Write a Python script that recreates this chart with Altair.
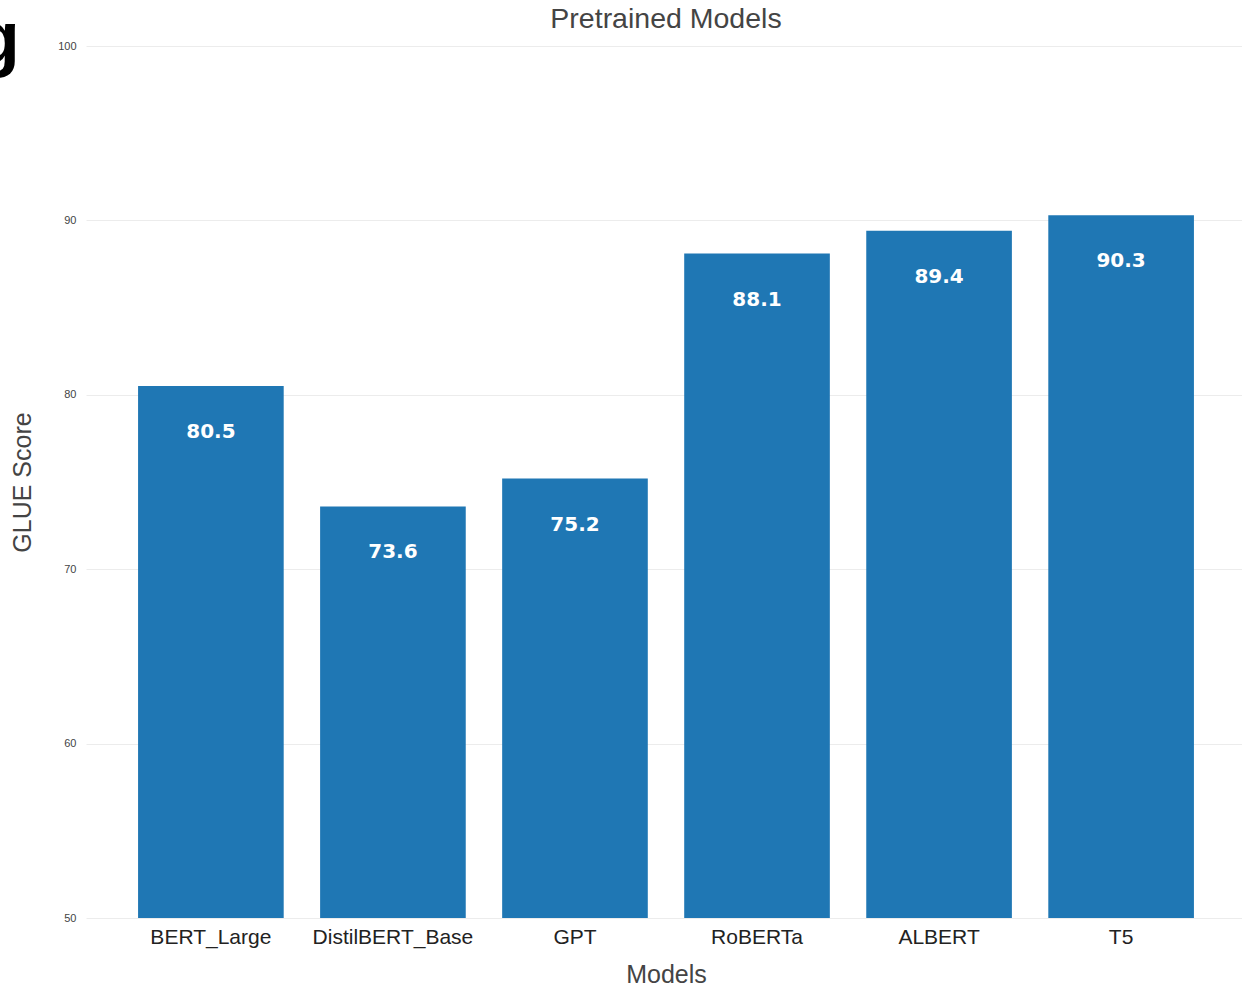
import altair as alt
import pandas as pd

# GLUE benchmark scores of pretrained language models
models = ["BERT_Large", "DistilBERT_Base", "GPT", "RoBERTa", "ALBERT", "T5"]
scores = [80.5, 73.6, 75.2, 88.1, 89.4, 90.3]
y_ticks = [50, 60, 70, 80, 90, 100]

df = pd.DataFrame({"model": models, "score": scores})

x = alt.X(
    "model:N",
    sort=models,
    title="Models",
    scale=alt.Scale(range=[0, 1160], paddingInner=0.2, paddingOuter=0.286),
    axis=alt.Axis(
        labelAngle=0,
        labelFont="Liberation Sans",
        labelFontSize=21,
        labelColor="#222222",
        labelPadding=8,
        ticks=False,
        domain=False,
        grid=False,
        titleFont="Liberation Sans",
        titleFontSize=25,
        titleFontWeight="normal",
        titleColor="#444444",
        titlePadding=15,
    ),
)

y = alt.Y(
    "score:Q",
    title="GLUE Score",
    scale=alt.Scale(domain=[50, 100], zero=False, nice=False),
    axis=alt.Axis(
        values=y_ticks,
        labelFont="Liberation Sans",
        labelFontSize=11,
        labelColor="#444444",
        labelPadding=10,
        ticks=False,
        domain=False,
        gridColor="#ececec",
        gridWidth=1,
        titleFont="Liberation Sans",
        titleFontSize=25,
        titleFontWeight="normal",
        titleColor="#444444",
        titlePadding=22,
    ),
)

bars = alt.Chart(df).mark_bar(color="#1f77b4").encode(
    x=x, y=y, y2=alt.datum(50)
)

labels = alt.Chart(df).mark_text(
    color="white",
    font="DejaVu Sans",
    fontSize=20,
    fontWeight="bold",
    baseline="middle",
    dy=46,
).encode(
    x=alt.X("model:N", sort=models),
    y="score:Q",
    text=alt.Text("score:Q", format=".1f"),
)

# fragment of a large heading peeking in at the top-left corner
corner = alt.Chart(pd.DataFrame({"t": ["g"]})).mark_text(
    font="Liberation Sans",
    fontSize=74,
    fontWeight="bold",
    color="black",
    align="right",
    baseline="alphabetic",
).encode(x=alt.value(-66), y=alt.value(17), text="t:N")

chart = (
    alt.layer(bars, labels, corner)
    .properties(
        width=1156,
        height=872,
        background="white",
        title=alt.TitleParams(
            "Pretrained Models",
            font="Liberation Sans",
            fontSize=28.5,
            fontWeight="normal",
            color="#444444",
            anchor="middle",
            baseline="alphabetic",
            offset=0,
            dy=52,
            dx=2,
        ),
        autosize=alt.AutoSizeParams(type="none"),
        padding={"left": 86, "top": 46, "right": 0, "bottom": 66},
    )
    .configure_axis(domain=False)
    .configure_view(stroke=None)
)

chart.save("out.html", embed_options={"renderer": "svg", "actions": False})
